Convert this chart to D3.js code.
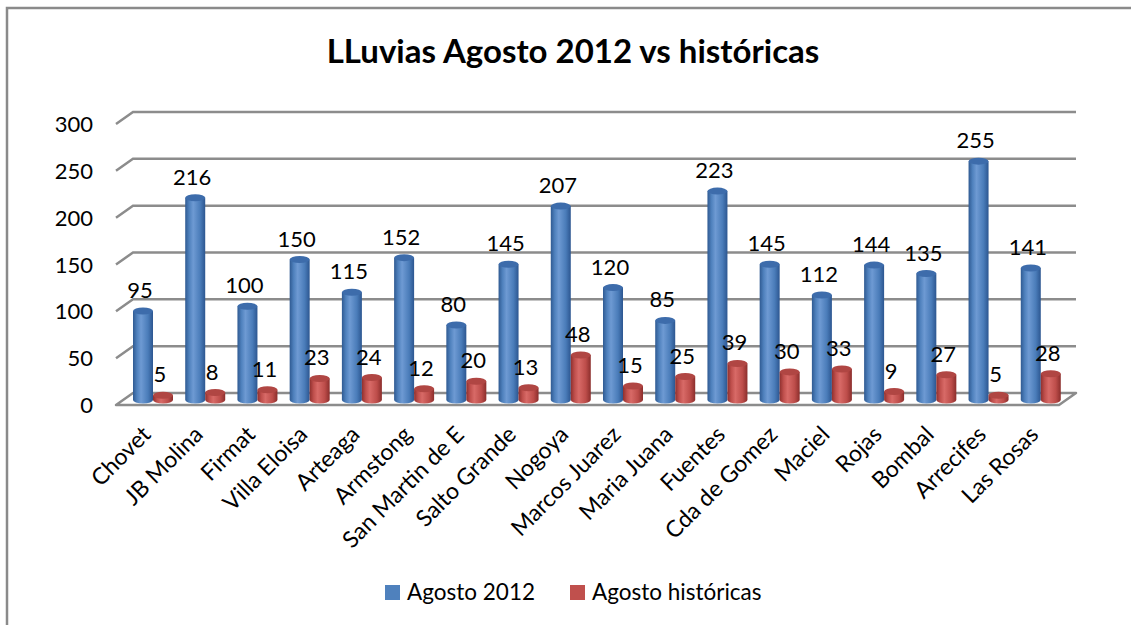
<!DOCTYPE html>
<html>
<head>
<meta charset="utf-8">
<script src="https://cdn.jsdelivr.net/npm/d3@7"></script>
<style>
    html, body { margin: 0; padding: 0; background: #fff; }
    svg text { font-family: Lato, "Open Sans", sans-serif; fill: #000; }
</style>
</head>
<body>
<rain-chart></rain-chart>
<script>
const categories = ['Chovet', 'JB Molina', 'Firmat', 'Villa Eloisa', 'Arteaga', 'Armstong',
    'San Martin de E', 'Salto Grande', 'Nogoya', 'Marcos Juarez', 'Maria Juana', 'Fuentes',
    'Cda de Gomez', 'Maciel', 'Rojas', 'Bombal', 'Arrecifes', 'Las Rosas'];
const agosto2012 = [95, 216, 100, 150, 115, 152, 80, 145, 207, 120, 85, 223, 145, 112, 144, 135, 255, 141];
const historicas = [5, 8, 11, 23, 24, 12, 20, 13, 48, 15, 25, 39, 30, 33, 9, 27, 5, 28];
const seriesNames = ['Agosto 2012', 'Agosto históricas'];
const yTicks = [0, 50, 100, 150, 200, 250, 300];

class RainChart extends HTMLElement {
    constructor() {
        super();
        this.width = 1131;
        this.height = 625;

        // back wall of the 3d box, the front is shifted by (dx, dy)
        this.wallLeft = 133;
        this.wallRight = 1076;
        this.dx = -17;
        this.dy = 12;

        this.svg = d3.select(this).append('svg')
            .attr('width', this.width)
            .attr('height', this.height);
    }
    //____________________________________________________________
    //
    connectedCallback() {
        this.y = d3.scaleLinear().domain([0, 300]).range([393, 112]);
        this.x = d3.scaleBand().domain(categories).range([127, 1067]);
        this.xs = d3.scaleBand().domain(seriesNames).range([6, 46]);

        this.#drawFrame();
        this.#drawWalls();
        this.#drawBars();
        this.#drawLabels();
        this.#drawLegend();
    }
    //____________________________________________________________
    //
    #drawFrame() {
        this.svg.append('path')
            .attr('d', `M7,${this.height} L7,8 L${this.width},8`)
            .attr('fill', 'none')
            .attr('stroke', '#8a8a8a')
            .attr('stroke-width', 2.5);

        this.svg.append('text')
            .attr('x', 573)
            .attr('y', 63)
            .attr('text-anchor', 'middle')
            .style('font-size', '33px')
            .style('font-weight', 'bold')
            .text('LLuvias Agosto 2012 vs históricas');
    }
    //____________________________________________________________
    //
    #drawWalls() {
        const { dx, dy, wallLeft, wallRight } = this;
        const grid = this.svg.append('g');

        grid.selectAll('path')
            .data(yTicks.slice(1))
            .join('path')
            .attr('d', d => `M${wallLeft + dx},${this.y(d) + dy} L${wallLeft},${this.y(d)} L${wallRight},${this.y(d)}`)
            .attr('fill', 'none')
            .attr('stroke', '#8c8c8c')
            .attr('stroke-width', 2.5);

        // floor
        const y0 = this.y(0);
        grid.append('path')
            .attr('d', `M${wallLeft},${y0} L${wallRight},${y0} L${wallRight + dx},${y0 + dy} L${wallLeft + dx},${y0 + dy} Z`)
            .attr('fill', '#fff')
            .attr('stroke', '#8c8c8c')
            .attr('stroke-width', 2.5)
            .attr('stroke-linejoin', 'round');

        this.svg.append('g')
            .selectAll('text')
            .data(yTicks)
            .join('text')
            .attr('x', 93)
            .attr('y', d => this.y(d) + dy + 8)
            .attr('text-anchor', 'end')
            .style('font-size', '22px')
            .text(d => d);
    }
    //____________________________________________________________
    //
    #drawBars() {
        const defs = this.svg.append('defs');
        const palettes = [
            ['#2f5a92', '#4f81bd', '#6e9ad3', '#4a7cb9', '#2c5690'],
            ['#8f302e', '#c0504d', '#d86a67', '#bd4d4a', '#8b2e2c']
        ];
        palettes.forEach((stops, i) => {
            const g = defs.append('linearGradient').attr('id', 'cyl' + i);
            stops.forEach((c, j) => g.append('stop')
                .attr('offset', [0, 0.2, 0.4, 0.75, 1][j])
                .attr('stop-color', c));
        });
        const tops = ['#3d6cab', '#b04643'];

        const base = this.y(0) + 7;
        const rx = this.xs.bandwidth() / 2;
        const ry = 3.5;
        const series = [agosto2012, historicas];

        const bars = [];
        categories.forEach((c, i) => {
            series.forEach((s, k) => {
                bars.push({ cat: c, k, value: s[i], cx: this.x(c) + this.xs(seriesNames[k]) + rx });
            });
        });
        this.bars = bars;

        const g = this.svg.append('g')
            .selectAll('g')
            .data(bars)
            .join('g');

        g.append('path')
            .attr('fill', d => `url(#cyl${d.k})`)
            .attr('d', d => {
                const top = this.y(d.value) + 7;
                return `M${d.cx - rx},${top} L${d.cx - rx},${base} A${rx},${ry} 0 0 0 ${d.cx + rx},${base} L${d.cx + rx},${top} Z`;
            });

        g.append('ellipse')
            .attr('cx', d => d.cx)
            .attr('cy', d => this.y(d.value) + 7)
            .attr('rx', rx)
            .attr('ry', ry)
            .attr('fill', d => tops[d.k]);
    }
    //____________________________________________________________
    //
    #drawLabels() {
        this.svg.append('g')
            .selectAll('text')
            .data(this.bars)
            .join('text')
            .attr('x', d => d.cx - 3)
            .attr('y', d => this.y(d.value) + 7 - 13)
            .attr('text-anchor', 'middle')
            .style('font-size', '22px')
            .text(d => d.value);

        this.svg.append('g')
            .selectAll('text')
            .data(categories)
            .join('text')
            .attr('text-anchor', 'end')
            .attr('transform', d => `translate(${this.x(d) + this.x.bandwidth() / 2 - 1},436) rotate(-45)`)
            .style('font-size', '23px')
            .text(d => d);
    }
    //____________________________________________________________
    //
    #drawLegend() {
        const colors = ['#4f81bd', '#c0504d'];
        const pos = [385, 570];
        const g = this.svg.append('g')
            .selectAll('g')
            .data(seriesNames)
            .join('g')
            .attr('transform', (d, i) => `translate(${pos[i]},585)`);

        g.append('rect')
            .attr('width', 15)
            .attr('height', 15)
            .attr('fill', (d, i) => colors[i]);

        g.append('text')
            .attr('x', 22)
            .attr('y', 15)
            .style('font-size', '22.5px')
            .text(d => d);
    }
    //____________________________________________________________
    //
    static define(tag = 'rain-chart') {
        customElements.define(tag, this);
    }
}

RainChart.define();
</script>
</body>
</html>
